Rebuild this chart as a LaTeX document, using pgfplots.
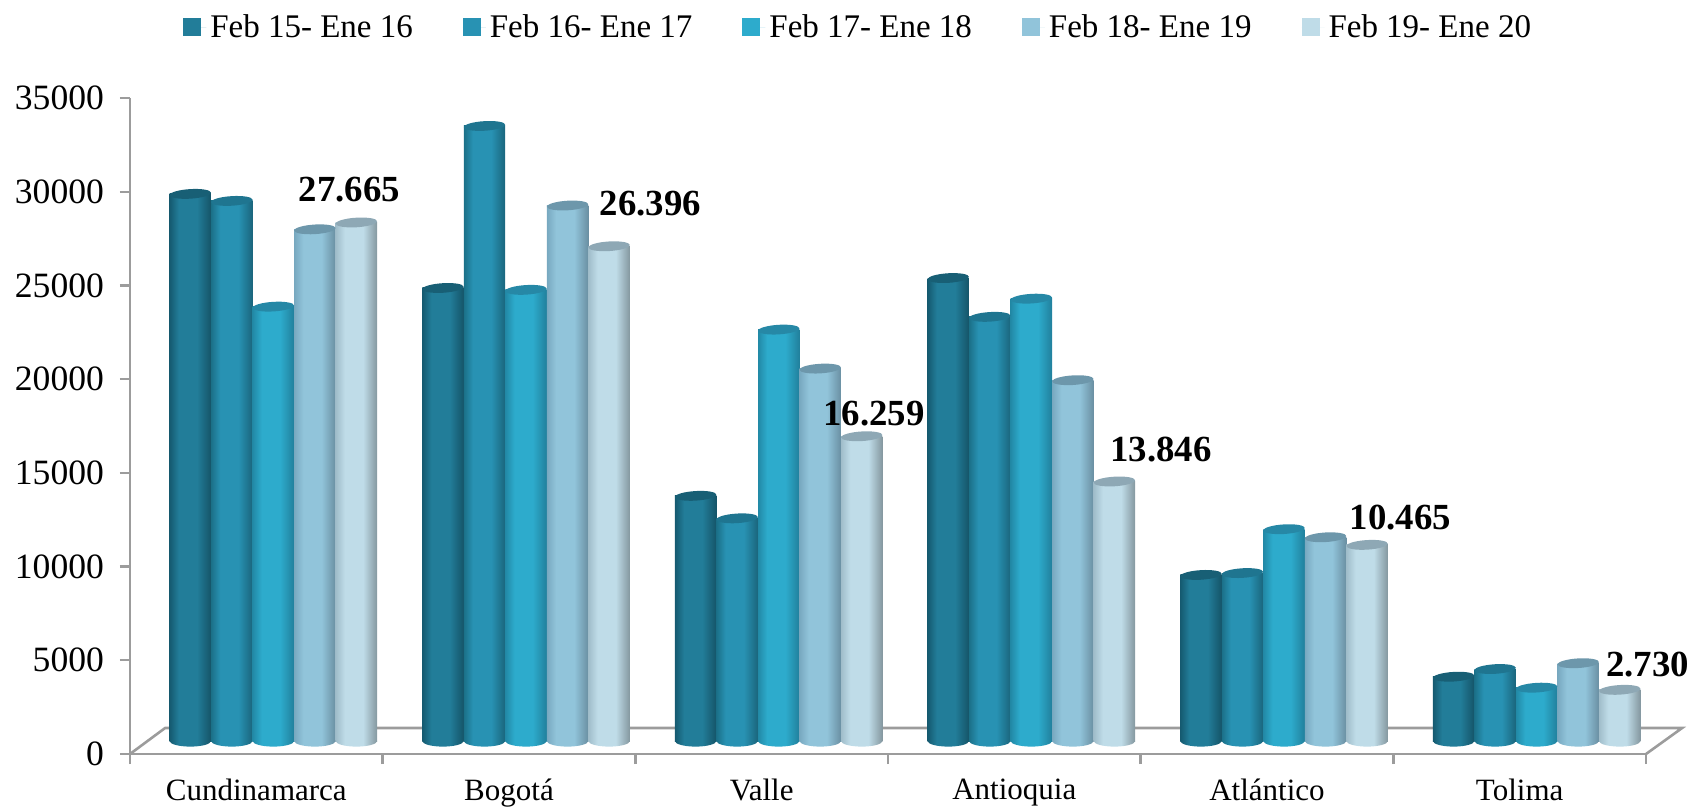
\documentclass[border=0pt]{standalone}
\usepackage{pgfplots}
\usepackage{pgfplotstable}
\usepackage{fontspec}
\setmainfont{Liberation Serif}
\pgfplotsset{compat=1.18}
\definecolor{axgray}{HTML}{9C9C9C}
\definecolor{aL}{HTML}{155A70}\definecolor{aM}{HTML}{227D99}\definecolor{aR}{HTML}{155468}\definecolor{aT}{HTML}{185F75}
\definecolor{bL}{HTML}{1B7088}\definecolor{bM}{HTML}{2892B3}\definecolor{bR}{HTML}{1A657C}\definecolor{bT}{HTML}{1F7590}
\definecolor{cL}{HTML}{2289A6}\definecolor{cM}{HTML}{2DABCC}\definecolor{cR}{HTML}{21809C}\definecolor{cT}{HTML}{2688A6}
\definecolor{dL}{HTML}{78A9C0}\definecolor{dM}{HTML}{91C4DA}\definecolor{dR}{HTML}{6A8FA2}\definecolor{dT}{HTML}{6D97AB}
\definecolor{eL}{HTML}{A0BDCA}\definecolor{eM}{HTML}{BFDCE8}\definecolor{eR}{HTML}{84979F}\definecolor{eT}{HTML}{8EA8B5}
\pgfplotstableread{
x y base
0.2386 29190 0
1.2386 24170 0
2.2386 13080 0
3.2386 24700 0
4.2386 8860 0
5.2386 3430 0
}\sa
\pgfplotstableread{
x y base
0.4030 28815 0
1.4030 32815 0
2.4030 11880 0
3.4030 22630 0
4.4030 8960 0
5.4030 3840 0
}\sb
\pgfplotstableread{
x y base
0.5674 23175 0
1.5674 24070 0
2.5674 21950 0
3.5674 23600 0
4.5674 11300 0
5.5674 2845 0
}\sc
\pgfplotstableread{
x y base
0.7318 27300 0
1.7318 28570 0
2.7318 19870 0
3.7318 19250 0
4.7318 10870 0
5.7318 4150 0
}\sd
\pgfplotstableread{
x y base
0.8962 27665 0
1.8962 26396 0
2.8962 16259 0
3.8962 13846 0
4.8962 10465 0
5.8962 2730 0
}\se
\newcommand\declcyl[1]{%
  \pgfdeclarehorizontalshading{cyl#1}{100bp}{color(0bp)=(#1L); color(25bp)=(#1L); color(36bp)=(#1M); color(58bp)=(#1M); color(75bp)=(#1R); color(100bp)=(#1R)}%
  \pgfdeclareplotmark{base#1}{\path[draw=none,shade,shading=cyl#1] (0,0) ellipse (10.35pt and 2.8pt);}%
  \pgfdeclareplotmark{top#1}{\pgfpathellipse{\pgfpointorigin}{\pgfpoint{10.35pt}{0.6pt}}{\pgfpoint{0pt}{2.4pt}}\pgfsetfillcolor{#1T}\pgfusepathqfill}%
}
\declcyl{a}\declcyl{b}\declcyl{c}\declcyl{d}\declcyl{e}
\newcommand\cyl[2]{%
  \addplot[forget plot,only marks,mark=base#1,mark options={draw=none},yshift=6.5pt] table[x=x,y=base]{#2};
  \pgfplotsinvokeforeach{0,1,2,3,4,5}{%
    \addplot[forget plot,ybar,bar width=20.7pt,bar shift=0pt,draw=none,yshift=6.5pt,
      restrict x to domain=##1:##1.99,
      shade,shading=cyl#1] table[x=x,y=y]{#2};
  }%
  \addplot[forget plot,only marks,mark=top#1,mark options={draw=none},yshift=6.5pt] table[x=x,y=y]{#2};
}
\begin{document}
\begin{tikzpicture}[x=1pt,y=1pt]
\path[use as bounding box] (0,0) rectangle (845,404);
\begin{axis}[
  at={(65pt,27pt)},anchor=origin,
  scale only axis,width=758pt,height=328pt,
  xmin=0,xmax=6,ymin=0,ymax=35000,clip=false,
  axis x line*=bottom,axis y line*=left,
  axis line style={axgray,line width=1.3pt,-},
  xtick={0.5,1.5,2.5,3.5,4.5,5.5},
  xticklabels={Cundinamarca,Bogotá,Valle,Antioquia,Atlántico,Tolima},
  minor xtick={0,1,2,3,4,5,6},
  major x tick style={draw=none},
  minor x tick style={axgray,line width=1.2pt},
  y tick style={axgray,line width=1.2pt},
  tick align=outside,
  major tick length=5pt,minor tick length=5pt,
  ytick={0,5000,10000,15000,20000,25000,30000,35000},
  scaled y ticks=false,
  yticklabel style={/pgf/number format/.cd,fixed,1000 sep={},assume math mode=true,/tikz/.cd,
    font=\fontsize{17.8}{20}\selectfont,black,xshift=-4.5pt},
  xticklabel style={font=\fontsize{15.5}{18}\selectfont,black,yshift=-4pt},
  legend columns=5,
  legend style={at={(0.481,1.108)},anchor=center,draw=none,fill=none,
    font=\fontsize{16.5}{20}\selectfont,
    /tikz/every even column/.append style={column sep=23pt}},
  legend image code/.code={\path (0pt,0pt) -- (11.5pt,0pt);\fill[#1] (0pt,-4.5pt) rectangle (9pt,4.5pt);},
]
\addlegendimage{fill=aM,draw=none}\addlegendentry{Feb 15- Ene 16}
\addlegendimage{fill=bM,draw=none}\addlegendentry{Feb 16- Ene 17}
\addlegendimage{fill=cM,draw=none}\addlegendentry{Feb 17- Ene 18}
\addlegendimage{fill=dM,draw=none}\addlegendentry{Feb 18- Ene 19}
\addlegendimage{fill=eM,draw=none}\addlegendentry{Feb 19- Ene 20}
\draw[axgray,line width=1.3pt] (axis cs:0,0) -- (axis cs:0.139,1387) -- (axis cs:6.143,1387) -- (axis cs:6,0);
\cyl{a}{\sa}
\cyl{b}{\sb}
\cyl{c}{\sc}
\cyl{d}{\sd}
\cyl{e}{\se}
\tikzset{lab/.style={font=\bfseries\fontsize{18.4}{20}\selectfont,black,inner sep=0pt}}
\node[lab] at (axis cs:0.868,30091) {27.665};
\node[lab] at (axis cs:2.060,29344) {26.396};
\node[lab] at (axis cs:2.944,18140) {16.259};
\node[lab] at (axis cs:4.081,16219) {13.846};
\node[lab] at (axis cs:5.028,12591) {10.465};
\node[lab] at (axis cs:6.006,4748) {2.730};
\end{axis}
\end{tikzpicture}
\end{document}
